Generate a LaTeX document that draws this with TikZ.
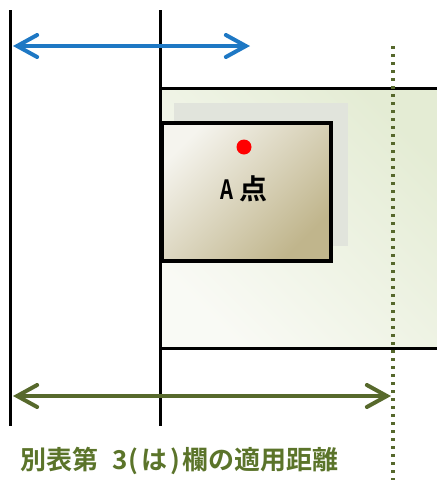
\documentclass[tikz,border=0pt]{standalone}
\usepackage{fontspec}
\newfontfamily\jpfont{Noto Sans CJK JP Bold}
\usetikzlibrary{arrows.meta}
\definecolor{blueA}{HTML}{1E78C4}
\definecolor{greenA}{HTML}{57692C}
\definecolor{greenT}{HTML}{5B742A}
\definecolor{dotG}{HTML}{56682C}
\definecolor{shadowG}{HTML}{E1E4DC}
\definecolor{bigL}{HTML}{F9FAF5}
\definecolor{bigR}{HTML}{E4ECD4}
\definecolor{boxL}{HTML}{F5F4EE}
\definecolor{boxR}{HTML}{C0B58C}
\tikzset{
  vline/.style={line width=3pt, black},
  dimarrow/.style={line width=4pt, {Straight Barb[length=20pt,width=22pt,line cap=round]}-{Straight Barb[length=20pt,width=22pt,line cap=round]}},
}
\begin{document}
\begin{tikzpicture}[x=1pt,y=-1pt]
\useasboundingbox (0,0) rectangle (437,480);
\begin{scope}
\clip (0,0) rectangle (437,480);
% big rectangle
\shade[top color=bigR, bottom color=bigL, shading angle=-45] (160,88) rectangle (445,348);
\node[coordinate] (bigTL) at (160,88) {};
\node[coordinate] (bigTR) at (445,88) {};
\node[coordinate] (bigBL) at (160,348) {};
\node[coordinate] (bigBR) at (445,348) {};
\draw[vline] (bigTL) -- (bigTR);
\draw[vline] (bigBL) -- (bigBR);
% shadow
\fill[shadowG] (174,103) rectangle (348,246);
% inner box
\shade[top color=boxL, bottom color=boxR, shading angle=45] (160,121) rectangle (329,259);
\node[draw=black, line width=4pt, minimum width=169pt, minimum height=138pt, anchor=north west, inner sep=0pt] (box) at (160,121) {};
\fill[red] (244,147) circle (7.5pt);
\node[font=\jpfont\fontsize{28}{28}\selectfont, inner sep=0pt] (alabel) at (244,189) {\scalebox{0.72}[0.95]{A}\hspace{6pt}点};
% dotted line
\coordinate (dotTop) at (393,46);
\coordinate (dotBot) at (393,482);
\draw[dotG, line width=3.3pt, dash pattern=on 3.3pt off 4.7pt] (dotTop) -- (dotBot);
% vertical lines
\coordinate (v1t) at (10,10);
\coordinate (v1b) at (10,426);
\coordinate (v2t) at (160,10);
\coordinate (v2b) at (160,426);
\draw[vline] (v1t) -- (v1b);
\draw[vline] (v2t) -- (v2b);
% arrows
\coordinate (ba1) at (13,46);
\coordinate (ba2) at (250,46);
\draw[dimarrow, blueA] (ba1) -- (ba2);
\coordinate (ga1) at (13,396);
\coordinate (ga2) at (391,396);
\draw[dimarrow, greenA] (ga1) -- (ga2);
\end{scope}
\node[font=\jpfont\fontsize{26}{26}\selectfont, text=greenT, inner sep=0pt, anchor=west] (caption) at (20,461) {別表第\hspace{14pt}3\hspace{1pt}(\hspace{3pt}は\hspace{3pt})\hspace{2pt}欄の適用距離};
\end{tikzpicture}
\end{document}
